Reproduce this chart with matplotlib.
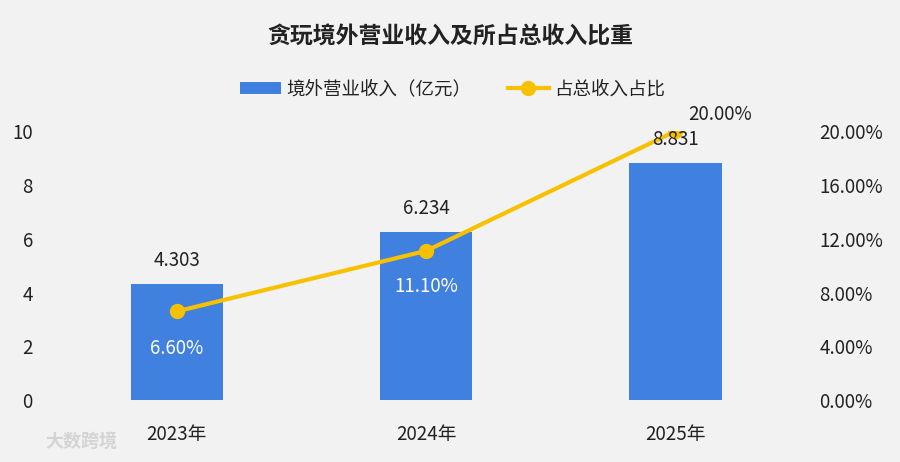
import matplotlib
matplotlib.use("Agg")
import matplotlib.pyplot as plt
from matplotlib.ticker import FuncFormatter

plt.rcParams['font.family'] = ['Noto Sans CJK SC', 'DejaVu Sans']

years = ['2023年', '2024年', '2025年']
revenue = [4.303, 6.234, 8.831]
share = [6.60, 11.10, 20.00]
revenue_labels = ['4.303', '6.234', '8.831']
share_labels = ['6.60%', '11.10%', '20.00%']
title = '贪玩境外营业收入及所占总收入比重'
bar_name = '境外营业收入（亿元）'
line_name = '占总收入占比'

bg = '#f2f2f2'
bar_color = '#4080df'
line_color = '#f8c100'
text_color = '#222222'

fig = plt.figure(figsize=(9, 4.62), dpi=100, facecolor=bg)
ax = fig.add_axes([0.058, 0.134, 0.831, 0.582], facecolor=bg)
ax2 = ax.twinx()

x = list(range(len(years)))
bars = ax.bar(x, revenue, width=0.37, color=bar_color, zorder=2, label=bar_name)
ax.set_xlim(-0.5, 2.5)
ax.set_ylim(0, 10)
ax.set_yticks([0, 2, 4, 6, 8, 10])
ax.set_xticks(x)
ax.set_xticklabels(years)
for s in ax.spines.values():
    s.set_visible(False)
for s in ax2.spines.values():
    s.set_visible(False)
ax.tick_params(axis='both', length=0, labelsize=13.5, colors=text_color)
ax.tick_params(axis='y', pad=14)
ax.tick_params(axis='x', pad=17)

line, = ax2.plot(x, share, color=line_color, lw=3, marker='o', markersize=10,
                 zorder=3, label=line_name)
ax2.set_ylim(0, 20)
ax2.set_yticks([0, 4, 8, 12, 16, 20])
ax2.yaxis.set_major_formatter(FuncFormatter(lambda v, p: f'{v:.2f}%'))
ax2.tick_params(axis='y', length=0, labelsize=13.5, colors=text_color, pad=14)

for xi, v, lab in zip(x, revenue, revenue_labels):
    ax2.annotate(lab, (xi, v * 2), xytext=(0, 17), textcoords='offset points',
                 ha='center', va='center', fontsize=13.5, color=text_color,
                 zorder=6)

offsets = [(0, -27), (0, -26), (32, 12)]
colors = ['white', 'white', text_color]
for xi, v, lab, off, c in zip(x, share, share_labels, offsets, colors):
    ax2.annotate(lab, (xi, v), xytext=off, textcoords='offset points',
                 ha='center', va='center', fontsize=13.5, color=c, zorder=6)

fig.text(0.5, 0.92, title, ha='center', va='center', fontsize=16.5,
         fontweight='bold', color=text_color)

fig.legend([bars, line], [bar_name, line_name], loc='center',
           bbox_to_anchor=(0.503, 0.807), ncol=2, frameon=False, fontsize=13.3,
           handlelength=2.2, handleheight=0.6, columnspacing=2.0,
           handletextpad=0.3, labelcolor=text_color)

fig.text(0.05, 0.045, '大数跨境', ha='left', va='center', fontsize=13,
         color='#d4d4d4', fontweight='bold')

fig.savefig('out.png', dpi=100, facecolor=bg)
